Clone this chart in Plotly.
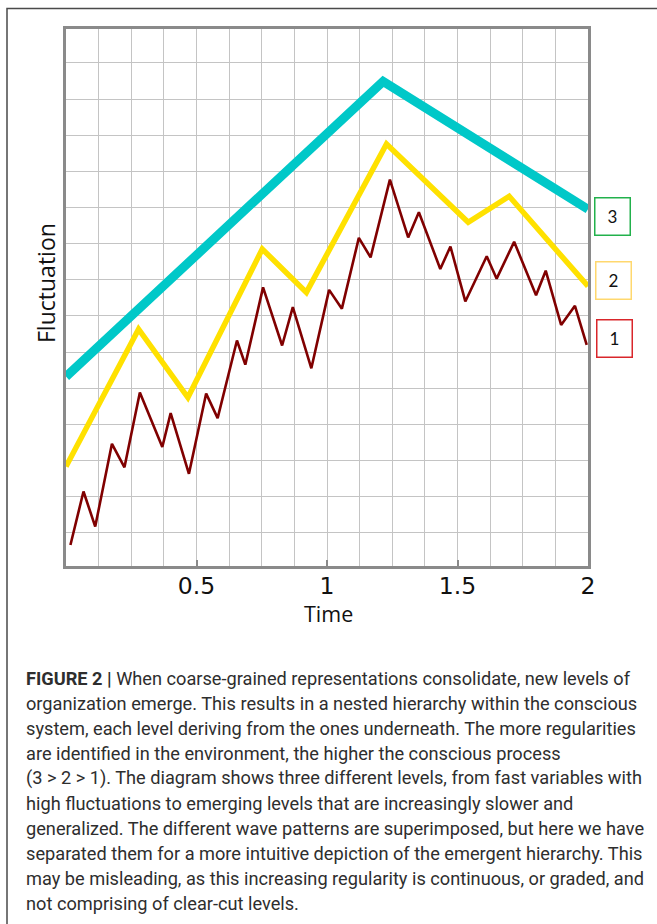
import plotly.graph_objects as go

# ---------------- data ----------------
level3_x = [0.0, 1.215, 2.0]
level3_y = [5.32, 13.49, 9.95]

level2_x = [0.0, 0.278, 0.467, 0.752, 0.921, 1.228, 1.541, 1.698, 2.0]
level2_y = [2.83, 6.63, 4.74, 8.85, 7.65, 11.76, 9.59, 10.31, 7.82]

level1_x = [0.017, 0.067, 0.112, 0.176, 0.224, 0.283, 0.369, 0.401, 0.471, 0.537,
            0.581, 0.655, 0.687, 0.755, 0.828, 0.869, 0.940, 1.008, 1.057, 1.122,
            1.167, 1.241, 1.311, 1.352, 1.434, 1.473, 1.530, 1.612, 1.650, 1.717,
            1.801, 1.838, 1.897, 1.950, 1.995]
level1_y = [0.66, 2.14, 1.17, 3.46, 2.81, 4.88, 3.37, 4.31, 2.63, 4.85,
            4.17, 6.32, 5.65, 7.79, 6.18, 7.24, 5.55, 7.72, 7.20, 9.16,
            8.62, 10.77, 9.17, 9.87, 8.30, 8.92, 7.40, 8.65, 8.03, 9.05,
            7.57, 8.25, 6.75, 7.28, 6.20]

x_tick_vals = [0.5, 1, 1.5, 2]
x_tick_text = ["0.5", "1", "1.5", "2"]

level_labels = ["3", "2", "1"]
x_title = "Time"
y_title = "Fluctuation"

caption_lines = [
    "<b>FIGURE 2 |</b> When coarse-grained representations consolidate, new levels of",
    "organization emerge. This results in a nested hierarchy within the conscious",
    "system, each level deriving from the ones underneath. The more regularities",
    "are identified in the environment, the higher the conscious process",
    "(3 &gt; 2 &gt; 1). The diagram shows three different levels, from fast variables with",
    "high fluctuations to emerging levels that are increasingly slower and",
    "generalized. The different wave patterns are superimposed, but here we have",
    "separated them for a more intuitive depiction of the emergent hierarchy. This",
    "may be misleading, as this increasing regularity is continuous, or graded, and",
    "not comprising of clear-cut levels.",
]

# ---------------- geometry helpers ----------------
W, H = 657, 924
ML, MR, MT, MB = 66, 69, 29, 358
PW = W - ML - MR
PH = H - MT - MB


def px_x(px):
    return (px - ML) / PW


def px_y(py):
    return (H - MB - py) / PH


fig = go.Figure()

fig.add_trace(go.Scatter(x=level1_x, y=level1_y, mode="lines",
                         line=dict(color="#800000", width=2.6), hoverinfo="skip"))
fig.add_trace(go.Scatter(x=level2_x, y=level2_y, mode="lines",
                         line=dict(color="#FFE100", width=5.5), hoverinfo="skip"))
fig.add_trace(go.Scatter(x=level3_x, y=level3_y, mode="lines",
                         line=dict(color="#00C8C8", width=9), hoverinfo="skip"))

grid_color = "#c4c4c4"
frame_color = "#8a8a8a"

fig.update_xaxes(
    range=[0, 2], tickmode="array", tickvals=x_tick_vals, ticktext=x_tick_text,
    showgrid=True, gridcolor=grid_color, gridwidth=1.3,
    minor=dict(tickmode="linear", tick0=0, dtick=0.125, showgrid=True,
               gridcolor=grid_color, gridwidth=1.3, ticks=""),
    showline=True, mirror=True, linecolor=frame_color, linewidth=3,
    ticks="inside", ticklen=6, tickcolor=frame_color, tickwidth=1.5,
    tickfont=dict(family="DejaVu Sans", size=23.5, color="#111111"),
    ticklabelstandoff=-3,
    zeroline=False, fixedrange=True,
)
fig.update_yaxes(
    range=[0.078, 14.94], tickmode="linear", tick0=0, dtick=1,
    showticklabels=False, ticks="",
    showgrid=True, gridcolor=grid_color, gridwidth=1.3,
    showline=True, mirror=True, linecolor=frame_color, linewidth=3,
    zeroline=False, fixedrange=True,
)

annotations = []
# axis titles
annotations.append(dict(x=px_x(328), y=px_y(613), xref="paper", yref="paper",
                        text=x_title, showarrow=False, xanchor="center", yanchor="middle",
                        font=dict(family="Open Sans", size=21.5, color="#111111")))
annotations.append(dict(x=px_x(45.5), y=px_y(283.5), xref="paper", yref="paper",
                        text=y_title, textangle=-90, showarrow=False,
                        xanchor="center", yanchor="middle",
                        font=dict(family="Open Sans", size=23, color="#111111")))

# level label boxes
box_pos = [(612.5, 216.5, "#22b14c"), (613.7, 280.3, "#ffd86e"), (614.5, 338.7, "#d9262b")]
for lab, (bx, by, bc) in zip(level_labels, box_pos):
    annotations.append(dict(x=px_x(bx), y=px_y(by), xref="paper", yref="paper",
                            text=lab, showarrow=False, xanchor="center", yanchor="middle",
                            width=34, height=36, borderwidth=1.5, borderpad=0,
                            bordercolor=bc, bgcolor="white",
                            font=dict(family="Lato", size=17, color="#111111")))

# caption
for i, line in enumerate(caption_lines):
    annotations.append(dict(x=px_x(24), y=px_y(678 + 25 * i), xref="paper", yref="paper",
                            text=line, showarrow=False, xanchor="left", yanchor="middle",
                            align="left",
                            font=dict(family="Roboto", size=18.2, color="#2e2e2e")))

shapes = [dict(type="rect", xref="paper", yref="paper",
               x0=px_x(7), x1=px_x(700), y0=px_y(960), y1=px_y(8.5),
               line=dict(color="#4a4a4a", width=1.5), fillcolor="rgba(0,0,0,0)",
               layer="below")]

fig.update_layout(
    width=W, height=H, autosize=False,
    margin=dict(l=ML, r=MR, t=MT, b=MB, pad=0),
    paper_bgcolor="white", plot_bgcolor="white",
    showlegend=False,
    annotations=annotations, shapes=shapes,
)

fig.write_html("out.html", config={"displayModeBar": False},
               post_script="document.body.style.margin='0';document.body.style.padding='0';")
